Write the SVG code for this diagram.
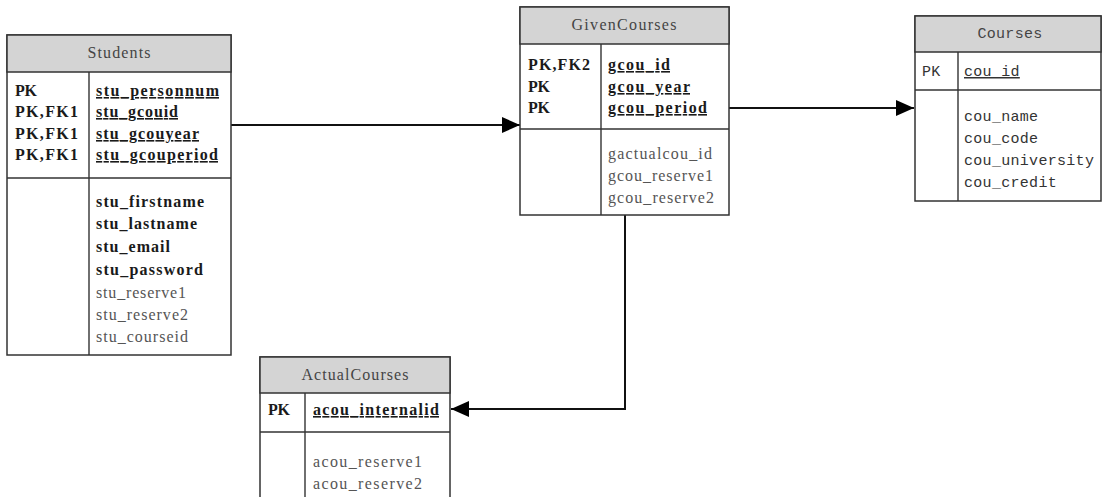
<svg xmlns="http://www.w3.org/2000/svg" width="1108" height="497" viewBox="0 0 1108 497">
  <defs>
    <style>
      .box { fill: #ffffff; stroke: #333333; stroke-width: 1.5; }
      .head { fill: #d4d4d4; stroke: #333333; stroke-width: 1.5; }
      .sep { stroke: #333333; stroke-width: 1.4; fill: none; }
      .title { font-family: "Liberation Serif", "Times New Roman", serif; font-size: 16px; fill: #444444; text-anchor: middle; }
      .key { font-family: "Liberation Serif", "Times New Roman", serif; font-size: 16px; font-weight: bold; fill: #1a1a1a; }
      .fld { font-family: "Liberation Serif", "Times New Roman", serif; font-size: 16px; fill: #555555; }
      .pk { text-decoration: underline; }
      .mono { font-family: "Liberation Mono", "Courier New", monospace; font-size: 15px; fill: #333333; letter-spacing: 0.3px; }
      .monotitle { font-family: "Liberation Mono", "Courier New", monospace; font-size: 15px; fill: #444444; letter-spacing: 0.3px; text-anchor: middle; }
      .conn { stroke: #111111; stroke-width: 2; fill: none; }
    </style>
    <marker id="arrow" viewBox="0 0 18 16" refX="18" refY="8" markerWidth="18" markerHeight="16" markerUnits="userSpaceOnUse" orient="auto">
      <path d="M0,0 L18,8 L0,16 Z" fill="#000000"/>
    </marker>
  </defs>

  <!-- relationships -->
  <g id="connectors">
    <path class="conn" d="M231,125 L520,125" marker-end="url(#arrow)"/>
    <path class="conn" d="M729,108 L914,108" marker-end="url(#arrow)"/>
    <path class="conn" d="M625,215 L625,409 L451,409" marker-end="url(#arrow)"/>
  </g>

  <!-- Students table -->
  <g id="students">
    <rect class="box" x="7" y="35" width="224" height="320"/>
    <rect class="head" x="7" y="35" width="224" height="37"/>
    <line class="sep" x1="7" y1="178" x2="231" y2="178"/>
    <line class="sep" x1="89" y1="72" x2="89" y2="355"/>
    <text class="title" x="119" y="58" textLength="63" lengthAdjust="spacing">Students</text>
    <text class="key" x="15" y="96" textLength="22" lengthAdjust="spacing">PK</text>
    <text class="key" x="15" y="117" textLength="63" lengthAdjust="spacing">PK,FK1</text>
    <text class="key" x="15" y="139" textLength="63" lengthAdjust="spacing">PK,FK1</text>
    <text class="key" x="15" y="160" textLength="63" lengthAdjust="spacing">PK,FK1</text>
    <text class="key pk" x="96" y="96" textLength="123" lengthAdjust="spacing">stu_personnum</text>
    <text class="key pk" x="96" y="117" textLength="82" lengthAdjust="spacing">stu_gcouid</text>
    <text class="key pk" x="96" y="139" textLength="103" lengthAdjust="spacing">stu_gcouyear</text>
    <text class="key pk" x="96" y="160" textLength="122" lengthAdjust="spacing">stu_gcouperiod</text>
    <text class="key" x="96" y="207" textLength="108" lengthAdjust="spacing">stu_firstname</text>
    <text class="key" x="96" y="229" textLength="101" lengthAdjust="spacing">stu_lastname</text>
    <text class="key" x="96" y="252" textLength="74" lengthAdjust="spacing">stu_email</text>
    <text class="key" x="96" y="275" textLength="107" lengthAdjust="spacing">stu_password</text>
    <text class="fld" x="96" y="298" textLength="90" lengthAdjust="spacing">stu_reserve1</text>
    <text class="fld" x="96" y="320" textLength="92" lengthAdjust="spacing">stu_reserve2</text>
    <text class="fld" x="96" y="342" textLength="92" lengthAdjust="spacing">stu_courseid</text>
  </g>

  <!-- GivenCourses table -->
  <g id="givencourses">
    <rect class="box" x="520" y="7" width="209" height="208"/>
    <rect class="head" x="520" y="7" width="209" height="37"/>
    <line class="sep" x1="520" y1="129" x2="729" y2="129"/>
    <line class="sep" x1="601" y1="44" x2="601" y2="215"/>
    <text class="title" x="624" y="30" textLength="105" lengthAdjust="spacing">GivenCourses</text>
    <text class="key" x="528" y="70" textLength="62" lengthAdjust="spacing">PK,FK2</text>
    <text class="key" x="528" y="92" textLength="22" lengthAdjust="spacing">PK</text>
    <text class="key" x="528" y="113" textLength="22" lengthAdjust="spacing">PK</text>
    <text class="key pk" x="608" y="70" textLength="62" lengthAdjust="spacing">gcou_id</text>
    <text class="key pk" x="608" y="92" textLength="82" lengthAdjust="spacing">gcou_year</text>
    <text class="key pk" x="608" y="113" textLength="99" lengthAdjust="spacing">gcou_period</text>
    <text class="fld" x="608" y="159" textLength="104" lengthAdjust="spacing">gactualcou_id</text>
    <text class="fld" x="608" y="181" textLength="105" lengthAdjust="spacing">gcou_reserve1</text>
    <text class="fld" x="608" y="203" textLength="106" lengthAdjust="spacing">gcou_reserve2</text>
  </g>

  <!-- Courses table -->
  <g id="courses">
    <rect class="box" x="915" y="16" width="186" height="185"/>
    <rect class="head" x="915" y="16" width="186" height="36"/>
    <line class="sep" x1="915" y1="90" x2="1101" y2="90"/>
    <line class="sep" x1="958" y1="52" x2="958" y2="201"/>
    <text class="monotitle" x="1010" y="38">Courses</text>
    <text class="mono" x="922" y="76">PK</text>
    <text class="mono pk" x="964" y="76">cou_id</text>
    <text class="mono" x="964" y="121">cou_name</text>
    <text class="mono" x="964" y="143">cou_code</text>
    <text class="mono" x="964" y="165">cou_university</text>
    <text class="mono" x="964" y="187">cou_credit</text>
  </g>

  <!-- ActualCourses table -->
  <g id="actualcourses">
    <rect class="box" x="260" y="357" width="190" height="150"/>
    <rect class="head" x="260" y="357" width="190" height="36"/>
    <line class="sep" x1="260" y1="432" x2="450" y2="432"/>
    <line class="sep" x1="305" y1="393" x2="305" y2="497"/>
    <text class="title" x="355" y="380" textLength="107" lengthAdjust="spacing">ActualCourses</text>
    <text class="key" x="268" y="415" textLength="22" lengthAdjust="spacing">PK</text>
    <text class="key pk" x="313" y="415" textLength="126" lengthAdjust="spacing">acou_internalid</text>
    <text class="fld" x="313" y="467" textLength="109" lengthAdjust="spacing">acou_reserve1</text>
    <text class="fld" x="313" y="489" textLength="109" lengthAdjust="spacing">acou_reserve2</text>
  </g>
</svg>
